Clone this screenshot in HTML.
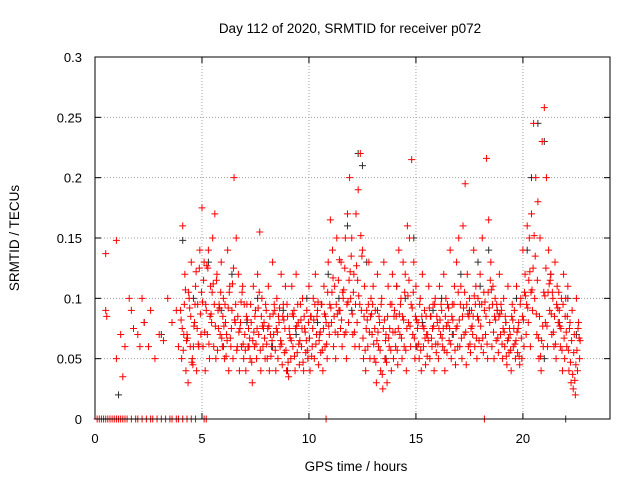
<!DOCTYPE html>
<html><head><meta charset="utf-8"><style>
body{margin:0;background:#fff;}
svg{display:block;font-family:"Liberation Sans",sans-serif;}
</style></head><body>
<svg id="chart" width="640" height="480">
<rect width="640" height="480" fill="#fff"/>
<text x="350" y="33" font-size="13.5" text-anchor="middle">Day 112 of 2020, SRMTID for receiver p072</text>
<text x="356" y="471" font-size="13.5" text-anchor="middle">GPS time / hours</text>
<text transform="translate(19,238) rotate(-90)" font-size="13.5" text-anchor="middle">SRMTID / TECUs</text>
<g id="grid"></g>
<g id="ticks"></g>
<g id="marks"></g>
<rect x="95" y="57" width="515" height="362" fill="none" stroke="#000" stroke-width="1"/>
</svg>
<script>
const xTicks=[0,5,10,15,20];
const yTicks=[0,0.05,0.1,0.15,0.2,0.25,0.3];
const yTickLabels=["0","0.05","0.1","0.15","0.2","0.25","0.3"];
const earlyT=[0.5,0.5,0.55,1.0,1.0,1.2,1.3,1.4,1.6,1.7,1.8,2.0,2.1,2.2,2.3,2.5,2.6,2.8,3.0,3.2,3.4,3.6,3.8,3.9];
const earlyV=[0.137,0.09,0.085,0.148,0.05,0.07,0.035,0.06,0.1,0.09,0.075,0.07,0.06,0.1,0.08,0.06,0.09,0.05,0.07,0.065,0.1,0.08,0.09,0.06];
const seriesA=[90,160,120,70,100,130,60,110,95,140,175,130,90,140,110,150,170,120,95,130,100,80,140,110,90,200,150,120,80,110,70,95,60,80,110,90,120,155,100,80,90,110,70,130,90,100,80,120,95,110,85,70,110,90,120,80,95,100,75,90,110,85,100,120,90,70,95,110,80,130,165,140,110,150,90,130,100,150,170,200,150,120,170,190,220,140,110,90,130,100,110,90,120,80,100,130,70,110,95,120,90,110,140,100,130,120,160,150,215,130,110,80,100,120,90,70,110,85,95,100,80,110,90,120,100,80,140,95,110,130,150,110,160,195,120,100,90,140,110,100,120,150,90,216,165,130,110,100,90,120,90,100,80,110,70,95,90,110,80,100,140,120,160,150,170,245,200,180,150,230,258,200,140,120,100,130,110,90,100,120,100,110,80,90,70,100,80];
const seriesB=[50,70,40,30,60,50,80,40,60,70,60,40,70,50,80,60,50,90,70,60,50,70,40,60,50,80,60,40,60,50,40,60,50,30,60,50,70,40,60,50,50,40,60,70,40,50,60,45,55,40,35,50,60,40,55,45,60,40,55,50,40,60,50,70,45,55,40,60,50,70,80,60,50,70,90,60,70,50,80,100,70,60,80,60,90,50,40,60,50,70,50,30,60,40,25,50,30,60,40,50,60,45,70,50,60,40,80,60,70,50,60,50,40,60,45,70,50,60,40,55,50,70,60,40,55,65,50,70,45,60,60,50,70,45,60,55,70,60,50,65,60,55,70,50,80,60,50,65,55,70,50,60,45,55,40,60,50,55,45,50,60,70,80,60,90,100,70,50,40,60,80,60,90,70,60,50,80,60,40,50,60,40,30,25,20,40,50];
const seriesC=[75,95,65,105,85,45,95,75,125,105,115,95,125,85,105,95,115,75,105,85,95,65,105,75,125,95,85,75,105,95,85,75,95,65,85,75,105,85,75,95,75,85,65,95,75,85,65,85,75,95,75,65,85,75,95,65,75,85,65,80,85,75,95,85,65,95,75,85,105,95,105,85,95,115,75,105,125,95,115,135,105,95,115,95,135,85,75,95,85,95,75,65,85,95,75,65,85,75,95,85,85,75,95,85,105,75,115,95,105,85,75,95,85,75,85,65,85,75,95,85,75,95,75,85,95,75,85,95,75,105,95,85,105,95,85,75,85,95,85,95,95,105,85,105,115,95,85,95,85,95,75,85,65,75,85,75,65,75,95,85,105,95,115,105,125,135,115,85,65,105,125,105,115,105,85,95,105,75,95,85,85,75,65,55,45,75,65];
const seriesD=[82,57,107,67,92,47,77,122,62,87,97,72,127,62,87,112,77,57,92,67,77,52,92,67,112,82,57,72,97,62,57,82,67,47,72,62,92,57,77,67,62,77,52,87,57,72,92,62,82,57,47,67,87,52,77,62,82,47,72,57,67,52,82,62,97,72,57,87,62,77,92,117,72,87,132,82,107,72,97,122,87,72,127,102,152,67,57,82,72,87,62,47,72,57,37,82,47,67,57,72,72,57,87,67,82,57,102,77,92,67,82,62,57,77,67,52,92,67,77,62,62,82,67,57,77,92,62,82,57,77,82,67,92,72,87,62,77,102,67,82,77,67,97,62,92,107,72,82,67,87,62,72,52,67,57,82,62,72,52,67,82,102,92,122,107,152,87,67,52,77,102,77,112,87,72,62,92,77,57,67,72,57,47,37,32,57,67];
const blackT=[1.1,2.3,3.1,4.1,4.6,5.3,5.9,6.4,7.1,7.6,8.3,8.8,9.4,9.9,10.4,10.9,11.4,11.8,12.3,12.5,12.7,13.2,13.6,14.1,14.5,14.9,15.3,15.8,16.2,16.7,17.1,17.5,17.9,18.4,18.8,19.2,19.7,20.2,20.4,20.7,21.0,21.3,21.7,22.1,22.5,6.0,9.0,12.0,15.0,18.0,21.0];
const blackV=[0.02,0.08,0.07,0.148,0.1,0.13,0.09,0.12,0.08,0.1,0.06,0.09,0.07,0.1,0.08,0.12,0.1,0.16,0.22,0.21,0.13,0.09,0.05,0.11,0.1,0.15,0.08,0.09,0.1,0.07,0.12,0.09,0.13,0.14,0.09,0.08,0.1,0.14,0.2,0.245,0.23,0.12,0.08,0.1,0.07,0.06,0.04,0.09,0.06,0.11,0.05];
const zeroT=[0.1,0.2,0.3,0.4,0.5,0.6,0.7,0.8,0.9,1.0,1.1,1.2,1.3,1.4,1.5,1.7,1.9,2.0,2.2,2.4,2.6,2.7,2.9,3.1,3.3,3.5,3.6,3.8,3.9,4.1,4.3,4.5,4.7,5.1,5.2,10.8,18.2];
const zeroBlackT=[22.0];

const X0=95,X1=610,Y0=419,Y1=57,XMAX=24.07,YMAX=0.3;
const sx=t=>X0+t/XMAX*(X1-X0);
const sy=v=>Y0-v/YMAX*(Y0-Y1);
const NS="http://www.w3.org/2000/svg";
const grid=document.getElementById('grid'),ticks=document.getElementById('ticks'),marks=document.getElementById('marks');
function mk(tag,attrs,parent){const e=document.createElementNS(NS,tag);for(const k in attrs)e.setAttribute(k,attrs[k]);parent.appendChild(e);return e;}
xTicks.forEach((t,i)=>{
 const x=sx(t);
 if(t>0){const g=mk('line',{x1:x,x2:x,y1:Y1,y2:Y0,stroke:'#a0a0a0','stroke-dasharray':'1,2'},grid);
 
 }
 mk('line',{x1:x,x2:x,y1:Y0,y2:Y0-6,stroke:'#000'},ticks);
 mk('line',{x1:x,x2:x,y1:Y1,y2:Y1+6,stroke:'#000'},ticks);
 const l=mk('text',{x:x,y:443,'font-size':'13','text-anchor':'middle'},ticks);l.textContent=String(t);
 
 
});
yTicks.forEach((v,i)=>{
 const y=sy(v);
 if(v>0&&v<YMAX){const g=mk('line',{x1:X0,x2:X1,y1:y,y2:y,stroke:'#a0a0a0','stroke-dasharray':'1,2'},grid);
 
 }
 mk('line',{x1:X0,x2:X0+6,y1:y,y2:y,stroke:'#000'},ticks);
 mk('line',{x1:X1,x2:X1-6,y1:y,y2:y,stroke:'#000'},ticks);
 const l=mk('text',{x:82,y:y+5,'font-size':'13','text-anchor':'end'},ticks);l.textContent=yTickLabels[i];
 
 
});
function plus(t,v,color){
 const x=sx(t),y=sy(v);
 const p=mk('path',{d:`M${x-3.5},${y}H${x+3.5}M${x},${y-3.5}V${y+3.5}`,stroke:color,'stroke-width':'1',fill:'none'},marks);
 
 
}
const RED='#ff0000',BLK='#303030';
blackT.forEach((t,i)=>plus(t,blackV[i],BLK));
zeroBlackT.forEach(t=>plus(t,0,BLK));
earlyT.forEach((t,i)=>plus(t,earlyV[i],RED));
seriesA.forEach((v,i)=>plus(4+i*0.1,v/1000,RED));
seriesB.forEach((v,i)=>plus(4.05+i*0.1,v/1000,RED));
seriesC.forEach((v,i)=>plus(4.075+i*0.1,v/1000,RED));
seriesD.forEach((v,i)=>plus(4.025+i*0.1,v/1000,RED));
zeroT.forEach(t=>plus(t,0,RED));
</script>
</body></html>
